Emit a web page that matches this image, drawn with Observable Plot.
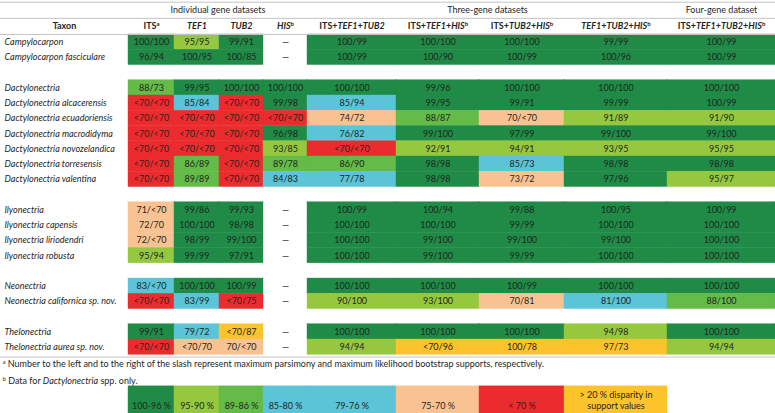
<!DOCTYPE html>
<html><head><meta charset="utf-8">
<script src="https://cdn.jsdelivr.net/npm/d3@7"></script>
<script src="https://cdn.jsdelivr.net/npm/@observablehq/plot@0.6"></script>
<style>body{margin:0;background:#fff;font-family:Lato,sans-serif}</style>
</head><body><div id="chart"></div>
<script>
// ---------- data ----------
const groupLabels = ["Individual gene datasets", "Three-gene datasets", "Four-gene dataset"];
const groupSpans = [[0, 4], [4, 8], [8, 9]];
const columnLabels = ["ITS^a", "*TEF1*", "*TUB2*", "*HIS*^b", "ITS+*TEF1*+*TUB2*", "ITS+*TEF1*+*HIS*^b",
  "ITS+*TUB2*+*HIS*^b", "*TEF1*+*TUB2*+*HIS*^b", "ITS+*TEF1*+*TUB2*+*HIS*^b"];
const taxa = ["Campylocarpon", "Campylocarpon fasciculare",
  "Dactylonectria", "Dactylonectria alcacerensis", "Dactylonectria ecuadoriensis", "Dactylonectria macrodidyma",
  "Dactylonectria novozelandica", "Dactylonectria torresensis", "Dactylonectria valentina",
  "Ilyonectria", "Ilyonectria capensis", "Ilyonectria liriodendri", "Ilyonectria robusta",
  "Neonectria", "Neonectria californica sp. nov.",
  "Thelonectria", "Thelonectria aurea sp. nov."];
const supports = [
  ["100/100", "95/95", "99/91", null, "100/99", "100/100", "100/100", "99/99", "100/99"],
  ["96/94", "100/95", "100/85", null, "100/99", "100/90", "100/99", "100/96", "100/99"],
  ["88/73", "99/95", "100/100", "100/100", "100/100", "99/96", "100/100", "100/100", "100/100"],
  ["<70/<70", "85/84", "<70/<70", "99/98", "85/94", "99/95", "99/91", "99/99", "100/99"],
  ["<70/<70", "<70/<70", "<70/<70", "<70/<70", "74/72", "88/87", "70/<70", "91/89", "91/90"],
  ["<70/<70", "<70/<70", "<70/<70", "96/98", "76/82", "99/100", "97/99", "99/100", "99/100"],
  ["<70/<70", "<70/<70", "<70/<70", "93/85", "<70/<70", "92/91", "94/91", "93/95", "95/95"],
  ["<70/<70", "86/89", "<70/<70", "89/78", "86/90", "98/98", "85/73", "98/98", "98/98"],
  ["<70/<70", "89/89", "<70/<70", "84/83", "77/78", "98/98", "73/72", "97/96", "95/97"],
  ["71/<70", "99/86", "99/93", null, "100/99", "100/94", "99/88", "100/95", "100/99"],
  ["72/70", "100/100", "98/98", null, "100/100", "100/100", "99/99", "100/100", "100/100"],
  ["72/<70", "98/99", "99/100", null, "100/100", "99/100", "99/100", "99/100", "100/100"],
  ["95/94", "99/99", "97/91", null, "100/100", "99/100", "99/99", "100/100", "100/100"],
  ["83/<70", "100/100", "100/99", null, "100/100", "100/100", "100/99", "100/100", "100/100"],
  ["<70/<70", "83/99", "<70/75", null, "90/100", "93/100", "70/81", "81/100", "88/100"],
  ["99/91", "79/72", "<70/87", null, "100/100", "100/100", "100/100", "94/98", "100/100"],
  ["<70/<70", "<70/70", "70/<70", null, "94/94", "<70/96", "100/78", "97/73", "94/94"]
];
// support class per cell: A 100-96, B 95-90, C 89-86, D 85-76, E 75-70, F <70, G disparity, - none
const supportClasses = [
  "ABA-AAAAA", "AAA-AAAAA",
  "CAAAAAAAA", "FDFADAAAA", "FFFFECEBB", "FFFADAAAA", "FFFBFBBBB", "FCFCCADAA", "FCFDDAEAB",
  "EAA-AAAAA", "EAA-AAAAA", "EAA-AAAAA", "BAA-AAAAA",
  "DAA-AAAAA", "FDF-BBEDC",
  "ADG-AAABA", "FEE-BGGGB"
];
const classKeys = ["A", "B", "C", "D", "E", "F", "G"];
const classColors = ["#1f8b46", "#95c83e", "#64bb47", "#5bc4d6", "#f8c292", "#eb2b2d", "#fdc32c"];
const legendLabels = ["100-96 %", "95-90 %", "89-86 %", "85-80 %", "79-76 %", "75-70 %", "< 70 %", "> 20 % disparity in\nsupport values"];
const legendClasses = ["A", "B", "C", "D", "D", "E", "F", "G"];
const footnotes = ["^a Number to the left and to the right of the slash represent maximum parsimony and maximum likelihood bootstrap supports, respectively.",
  "^b Data for *Dactylonectria* spp. only."];

// ---------- layout ----------
const taxonColWidth = 128;
const colWidths = [46, 45, 44, 44, 89, 83, 85, 103, 108];
const edges = [taxonColWidth];
colWidths.forEach(w => edges.push(edges[edges.length - 1] + w));

const rows = [];
let r = -1;
taxa.forEach((t, i) => {
  const genus = !t.includes(" ");
  if (genus && i > 0) r++;
  r++;
  rows.push({name: t, genus, r, i});
});
const cells = [];
rows.forEach(row => {
  supports[row.i].forEach((v, j) => {
    cells.push({r: row.r, j, x1: edges[j], x2: edges[j + 1], value: v ?? "—", cls: supportClasses[row.i][j]});
  });
});
const colored = cells.filter(d => d.cls !== "-");
const lastRow = rows[rows.length - 1].r + 1;
const headers = columnLabels.map((l, j) => ({label: l, x: (edges[j] + edges[j + 1]) / 2}));
headers.unshift({label: "Taxon", x: taxonColWidth / 2});
const groupHead = groupLabels.map((l, k) => ({label: l, x: (edges[groupSpans[k][0]] + edges[groupSpans[k][1]]) / 2}));
const legend = legendLabels.map((l, k) => ({label: l, cls: legendClasses[k], x1: edges[k], x2: edges[k + 1]}));

const ink = "#1e261f";
const fs = 9;
const plot = Plot.plot({
  width: 775, height: 413, margin: 0,
  x: {domain: [0, 775], range: [0, 775], axis: null},
  y: {domain: [-2.23, 24.85], range: [0, 413], axis: null},
  color: {domain: classKeys, range: classColors},
  style: {fontFamily: "Lato, sans-serif", fontSize: fs + "px", background: "#fff"},
  marks: [
    Plot.rect(colored, {x1: "x1", x2: "x2", y1: "r", y2: d => d.r + 1, fill: "cls", stroke: "cls", strokeWidth: 0.4}),
    Plot.text(cells, {x: d => (d.x1 + d.x2) / 2, y: d => d.r + 0.5, text: "value", fill: ink, fontSize: fs}),
    Plot.text(rows, {x: 4, y: d => d.r + 0.5, text: "name", textAnchor: "start", fill: ink, fontSize: fs,
      fontStyle: "italic", fontWeight: d => d.genus ? "bold" : "normal"}),
    Plot.ruleY([-2.12, -1.06, 0, lastRow + 0.15], {stroke: "#c4c4c4", strokeWidth: 1}),
    Plot.text(groupHead, {x: "x", y: -1.58, text: "label", fill: ink, fontSize: fs}),
    Plot.text(headers, {x: "x", y: -0.55, text: "label", fill: ink, fontSize: fs, fontWeight: "bold"}),
    Plot.text(footnotes, {x: 2, y: (d, k) => lastRow + 0.62 + k * 1.12, text: d => d, textAnchor: "start", fill: ink, fontSize: fs}),
    Plot.rect(legend, {x1: "x1", x2: "x2", y1: lastRow + 2.07, y2: 24.85, fill: "cls", stroke: "cls", strokeWidth: 0.4}),
    Plot.text(legend, {x: d => (d.x1 + d.x2) / 2, y: 24.58, text: "label", lineAnchor: "bottom", lineHeight: 1.3, fill: ink, fontSize: fs})
  ]
});

// rich text: *italic* and ^superscript
plot.querySelectorAll("text").forEach(t => {
  if (t.querySelector("tspan")) return;
  const s = t.textContent;
  if (!/[*^]/.test(s)) return;
  t.textContent = "";
  const parts = s.split(/(\*[^*]+\*|\^[a-z])/).filter(p => p !== "");
  let raised = false;
  parts.forEach(p => {
    const ts = document.createElementNS("http://www.w3.org/2000/svg", "tspan");
    if (p.startsWith("^")) {
      ts.textContent = p.slice(1);
      ts.setAttribute("font-size", "6");
      ts.setAttribute("dy", "-3");
      raised = true;
    } else {
      if (p.startsWith("*")) { ts.textContent = p.slice(1, -1); ts.setAttribute("font-style", "italic"); }
      else ts.textContent = p;
      if (raised) { ts.setAttribute("dy", "3"); raised = false; }
    }
    t.appendChild(ts);
  });
});
document.getElementById("chart").appendChild(plot);
</script>
</body></html>
